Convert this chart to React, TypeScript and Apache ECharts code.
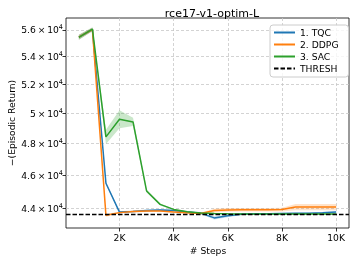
import React, { useEffect, useRef } from "react";
import * as echarts from "echarts";

const steps = [500, 1000, 1500, 2000, 2500, 3000, 3500, 4000, 4500, 5000, 5500, 6000, 6500, 7000, 7500, 8000, 8500, 9000, 9500, 10000];

const tqcMean = [55440, 56020, 45500, 43760, 43800, 43860, 43880, 43860, 43770, 43700, 43420, 43540, 43640, 43660, 43670, 43680, 43690, 43700, 43720, 43770];
const tqcSpread = [180, 140, 80, 50, 50, 60, 60, 60, 50, 60, 90, 80, 50, 40, 40, 40, 40, 40, 40, 40];

const ddpgMean = [55440, 56020, 43570, 43730, 43790, 43820, 43830, 43770, 43720, 43680, 43850, 43890, 43900, 43900, 43900, 43910, 44060, 44060, 44060, 44060];
const ddpgSpread = [180, 140, 80, 50, 50, 50, 50, 50, 50, 50, 110, 110, 110, 110, 110, 110, 190, 190, 190, 190];

const sacMean = [55430, 56050, 48450, 49620, 49440, 45030, 44220, 43920, 43780, 43710, 43680, 43660, 43650, 43650, 43650, 43650, 43650, 43650, 43650, 43650];
const sacSpread = [200, 150, 460, 600, 280, 100, 60, 40, 30, 30, 30, 30, 30, 30, 30, 30, 30, 30, 30, 30];

const thresh = 43650;

const yTicks = [44000, 46000, 48000, 50000, 52000, 54000, 56000];
const xTicks = [2000, 4000, 6000, 8000, 10000];

const yMin = 42830;
const yMax = 56900;
const xMin = 25;
const xMax = 10475;

const names = ["1. TQC", "2. DDPG", "3. SAC"];
const colors = ["#1f77b4", "#ff7f0e", "#2ca02c"];
const bandColors = ["rgba(31,119,180,0.22)", "rgba(255,127,14,0.22)", "rgba(44,160,44,0.25)"];

const FONT = "DejaVu Sans";

export default function App() {
  const ref = useRef<HTMLDivElement>(null);
  useEffect(() => {
    if (!ref.current) return;
    const chart = echarts.init(ref.current, null, { renderer: "svg" });
    const lg = (v: number) => Math.log10(v);
    const means = [tqcMean, ddpgMean, sacMean];
    const spreads = [tqcSpread, ddpgSpread, sacSpread];
    const series: any[] = [];
    means.forEach((m, k) => {
      const s = spreads[k];
      series.push({
        name: names[k] + " band",
        type: "custom",
        silent: true,
        z: 1,
        data: [[steps[0], lg(m[0])]],
        renderItem: (params: any, api: any) => {
          const upper = steps.map((x, i) => api.coord([x, lg(m[i] + s[i])]));
          const lower = steps.map((x, i) => api.coord([x, lg(m[i] - s[i])])).reverse();
          return {
            type: "polygon",
            shape: { points: upper.concat(lower) },
            style: { fill: bandColors[k], stroke: "none" },
          };
        },
      });
    });
    means.forEach((m, k) => {
      series.push({
        name: names[k],
        type: "line",
        data: steps.map((x, i) => [x, lg(m[i])]),
        symbol: "none",
        lineStyle: { color: colors[k], width: 1.5 },
        itemStyle: { color: colors[k] },
        z: 3,
      });
    });
    series.push({
      name: "THRESH",
      type: "line",
      data: [],
      symbol: "none",
      lineStyle: { color: "#000", width: 1.3, type: [4.5, 2] },
      itemStyle: { color: "#000" },
      z: 4,
      markLine: {
        silent: true,
        symbol: "none",
        label: { show: false },
        lineStyle: { color: "#000", width: 1.3, type: [4.5, 2] },
        data: [{ yAxis: lg(thresh) }],
      },
    });

    chart.setOption({
      animation: false,
      textStyle: { fontFamily: FONT },
      title: {
        text: "rce17-v1-optim-L",
        left: 207,
        top: 3,
        textAlign: "center",
        textStyle: { fontFamily: FONT, fontSize: 11, fontWeight: "normal", color: "#000" },
      },
      grid: {
        left: 66,
        right: 5,
        top: 18,
        bottom: 33,
        show: true,
        borderColor: "#000",
        borderWidth: 0.8,
        containLabel: false,
      },
      legend: {
        data: ["1. TQC", "2. DDPG", "3. SAC", "THRESH"],
        orient: "vertical",
        left: 270,
        top: 25,
        itemWidth: 21,
        itemHeight: 10,
        itemGap: 3,
        padding: [3, 10, 4, 3],
        itemStyle: { opacity: 0 },
        backgroundColor: "rgba(255,255,255,0.8)",
        borderColor: "#cccccc",
        borderWidth: 1,
        borderRadius: 3,
        textStyle: { fontFamily: FONT, fontSize: 9.2, color: "#000" },
      },
      xAxis: {
        type: "value",
        min: xMin,
        max: xMax,
        axisLine: { show: false },
        axisTick: { show: true, customValues: xTicks, length: 3.5, lineStyle: { color: "#000", width: 0.8 } },
        axisLabel: {
          customValues: xTicks,
          margin: 5,
          fontFamily: FONT,
          fontSize: 9.2,
          color: "#000",
          formatter: (v: number) => Math.round(v / 1000) + "K",
        },
        splitLine: { show: true, lineStyle: { color: "#c8c8c8", width: 0.8, type: [3, 2] } },
      },
      yAxis: {
        type: "value",
        min: lg(yMin),
        max: lg(yMax),
        axisLine: { show: false },
        axisTick: { show: true, customValues: yTicks.map(lg), length: 3.5, lineStyle: { color: "#000", width: 0.8 } },
        axisLabel: {
          customValues: yTicks.map(lg),
          margin: 3,
          color: "#000",
          formatter: (v: number) => {
            const raw = Math.round(Math.pow(10, v));
            const mant = Math.round(raw / 1000) / 10;
            return "{m|" + mant + "\u2009\u00d7\u200910}{e|4}";
          },
          rich: {
            m: { fontFamily: FONT, fontSize: 9.2, color: "#000", lineHeight: 12 },
            e: { fontFamily: FONT, fontSize: 6.5, color: "#000", lineHeight: 6, verticalAlign: "top" },
          },
        },
        splitLine: { show: true, lineStyle: { color: "#c8c8c8", width: 0.8, type: [3, 2] } },
      },
      graphic: [
        {
          type: "text",
          x: 11,
          y: 123,
          rotation: Math.PI / 2,
          style: {
            text: "\u2212(Episodic Return)",
            fontFamily: FONT,
            fontSize: 9.2,
            fill: "#000",
            align: "center",
            verticalAlign: "middle",
          },
        },
        {
          type: "text",
          x: 208,
          y: 250,
          style: {
            text: "# Steps",
            fontFamily: FONT,
            fontSize: 9.2,
            fill: "#000",
            align: "center",
            verticalAlign: "middle",
          },
        },
      ],
      series,
    });
    return () => chart.dispose();
  }, []);
  return <div ref={ref} style={{ position: "fixed", left: 0, top: 0, width: 354, height: 261 }} />;
}
